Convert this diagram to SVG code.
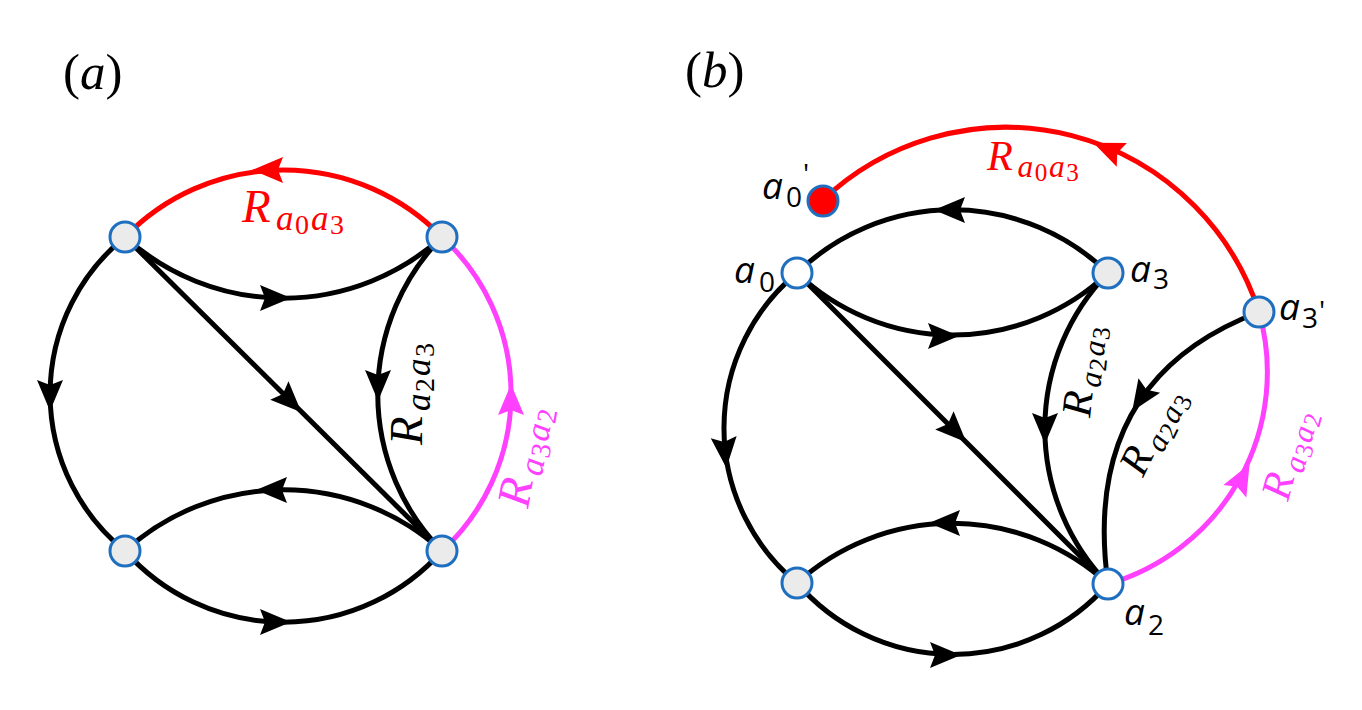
<svg xmlns="http://www.w3.org/2000/svg" xmlns:xlink="http://www.w3.org/1999/xlink" width="1362" height="710" viewBox="0 0 1362 710">
<style>
.e{fill:none;stroke-width:5}
.k{stroke:#000}
.r{stroke:#ff0000}
.m{stroke:#ff40ff}
.fk{fill:#000}
.fr{fill:#ff0000}
.fm{fill:#ff40ff}
.n{fill:#ebebeb;stroke:#1f6fc0;stroke-width:3}
.w{fill:#ffffff}
.red{fill:#ff0000}
.math{font-family:"Liberation Serif",serif}
.R{font-size:47px;font-style:italic}
.s{font-size:35px;font-style:italic}
.d{font-size:28px}
.sans{font-family:"Open Sans","Noto Sans",sans-serif;fill:#000}
.sa{font-size:37px;font-style:italic}
.sd{font-size:28px}
.pl{font-family:"Liberation Serif",serif;font-size:51px;fill:#000}
</style>
<defs>
<path id="ah" d="M16,0 L-15,-13 L-10,0 L-15,13 Z"/>
</defs>
<rect width="1362" height="710" fill="#fff"/>

<text class="pl" x="63" y="89">(<tspan font-style="italic">a</tspan>)</text>
<text class="pl" x="685" y="87">(<tspan font-style="italic">b</tspan>)</text>

<g id="connectors">
<!-- panel a -->
<path class="e r" d="M125,237 A221,221 0 0 1 442,237"/>
<path class="e k" d="M125,237 A236,236 0 0 0 442,237"/>
<path class="e k" d="M125,237 A202,202 0 0 0 125,551"/>
<path class="e k" d="M125,237 L442,551"/>
<path class="e k" d="M442,237 A224,224 0 0 0 442,551"/>
<path class="e m" d="M442,551 A213,213 0 0 0 442,237"/>
<path class="e k" d="M125,551 A236,236 0 0 1 442,551"/>
<path class="e k" d="M125,551 A212,212 0 0 0 442,551"/>
<use href="#ah" class="fr" transform="translate(268,170) rotate(180)"/>
<use href="#ah" class="fk" transform="translate(275,298)"/>
<use href="#ah" class="fk" transform="translate(50,395) rotate(90)"/>
<use href="#ah" class="fk" transform="translate(290,401) rotate(44.7)"/>
<use href="#ah" class="fk" transform="translate(378,385) rotate(90)"/>
<use href="#ah" class="fm" transform="translate(511,400) rotate(-90)"/>
<use href="#ah" class="fk" transform="translate(272,490) rotate(180)"/>
<use href="#ah" class="fk" transform="translate(275,622)"/>
<!-- panel b -->
<path class="e r" d="M823,200 A266,266 0 0 1 1259,312"/>
<path class="e k" d="M797,273 A223,223 0 0 1 1108,273"/>
<path class="e k" d="M797,273 A226,226 0 0 0 1108,273"/>
<path class="e k" d="M797,273 A201,201 0 0 0 797,583"/>
<path class="e k" d="M797,273 L1108,584"/>
<path class="e k" d="M1108,273 A223,223 0 0 0 1108,584"/>
<path class="e k" d="M1259,312 Q1080,380 1108,584"/>
<path class="e m" d="M1108,584 A220,220 0 0 0 1259,312"/>
<path class="e k" d="M797,583 A231,231 0 0 1 1108,584"/>
<path class="e k" d="M797,583 A206,206 0 0 0 1108,584"/>
<use href="#ah" class="fr" transform="translate(1108,149) rotate(-157)"/>
<use href="#ah" class="fk" transform="translate(950,210) rotate(180)"/>
<use href="#ah" class="fk" transform="translate(943,336)"/>
<use href="#ah" class="fk" transform="translate(725,452) rotate(85)"/>
<use href="#ah" class="fk" transform="translate(955,431) rotate(45)"/>
<use href="#ah" class="fk" transform="translate(1045,428) rotate(90)"/>
<use href="#ah" class="fk" transform="translate(1141,398) rotate(123.6)"/>
<use href="#ah" class="fm" transform="translate(1242,478) rotate(-61.6)"/>
<use href="#ah" class="fk" transform="translate(945,523) rotate(180)"/>
<use href="#ah" class="fk" transform="translate(945,655)"/>
</g>

<g id="edge-labels" class="math">
<g transform="translate(242,222)" fill="#ff0000">
<text><tspan class="R" x="0" y="0">R</tspan><tspan class="s" x="34" y="8">a</tspan><tspan class="d" x="53" y="12">0</tspan><tspan class="s" x="69" y="8">a</tspan><tspan class="d" x="88" y="12">3</tspan></text>
</g>
<g transform="translate(422,445) rotate(-90)" fill="#000">
<text><tspan class="R" x="0" y="0">R</tspan><tspan class="s" x="34" y="8">a</tspan><tspan class="d" x="53" y="12">2</tspan><tspan class="s" x="69" y="8">a</tspan><tspan class="d" x="88" y="12">3</tspan></text>
</g>
<g transform="translate(528,509) rotate(-80)" fill="#ff40ff">
<text><tspan class="R" x="0" y="0">R</tspan><tspan class="s" x="34" y="8">a</tspan><tspan class="d" x="53" y="12">3</tspan><tspan class="s" x="69" y="8">a</tspan><tspan class="d" x="88" y="12">2</tspan></text>
</g>
<g transform="translate(987,170) scale(0.9)" fill="#ff0000">
<text><tspan class="R" x="0" y="0">R</tspan><tspan class="s" x="34" y="8">a</tspan><tspan class="d" x="53" y="12">0</tspan><tspan class="s" x="69" y="8">a</tspan><tspan class="d" x="88" y="12">3</tspan></text>
</g>
<g transform="translate(1090,418) rotate(-84) scale(0.9)" fill="#000">
<text><tspan class="R" x="0" y="0">R</tspan><tspan class="s" x="34" y="8">a</tspan><tspan class="d" x="53" y="12">2</tspan><tspan class="s" x="69" y="8">a</tspan><tspan class="d" x="88" y="12">3</tspan></text>
</g>
<g transform="translate(1143,478) rotate(-64) scale(0.9)" fill="#000">
<text><tspan class="R" x="0" y="0">R</tspan><tspan class="s" x="34" y="8">a</tspan><tspan class="d" x="53" y="12">2</tspan><tspan class="s" x="69" y="8">a</tspan><tspan class="d" x="88" y="12">3</tspan></text>
</g>
<g transform="translate(1288,502) rotate(-75) scale(0.9)" fill="#ff40ff">
<text><tspan class="R" x="0" y="0">R</tspan><tspan class="s" x="34" y="8">a</tspan><tspan class="d" x="53" y="12">3</tspan><tspan class="s" x="69" y="8">a</tspan><tspan class="d" x="88" y="12">2</tspan></text>
</g>
</g>

<g id="node-a-tl"><circle class="n" cx="125" cy="237" r="15"/></g>
<g id="node-a-tr"><circle class="n" cx="442" cy="237" r="15"/></g>
<g id="node-a-bl"><circle class="n" cx="125" cy="551" r="15"/></g>
<g id="node-a-br"><circle class="n" cx="442" cy="551" r="15"/></g>

<g id="node-a0p"><circle class="n red" cx="823" cy="201" r="15"/>
<text class="sans"><tspan class="sa" x="762" y="199">a</tspan><tspan class="sd" x="786" y="207">0</tspan><tspan class="sd" x="803" y="184">'</tspan></text></g>
<g id="node-a0"><circle class="n w" cx="797" cy="273" r="15"/>
<text class="sans"><tspan class="sa" x="734" y="283">a</tspan><tspan class="sd" x="759" y="292">0</tspan></text></g>
<g id="node-a3"><circle class="n" cx="1108" cy="273" r="15"/>
<text class="sans"><tspan class="sa" x="1130" y="282">a</tspan><tspan class="sd" x="1153" y="289">3</tspan></text></g>
<g id="node-a3p"><circle class="n" cx="1259" cy="312" r="15"/>
<text class="sans"><tspan class="sa" x="1279" y="320">a</tspan><tspan class="sd" x="1302" y="328">3</tspan><tspan class="sd" x="1319" y="321">'</tspan></text></g>
<g id="node-bl"><circle class="n" cx="797" cy="583" r="15"/></g>
<g id="node-a2"><circle class="n w" cx="1108" cy="584" r="15"/>
<text class="sans"><tspan class="sa" x="1124" y="625">a</tspan><tspan class="sd" x="1148" y="635">2</tspan></text></g>
</svg>
